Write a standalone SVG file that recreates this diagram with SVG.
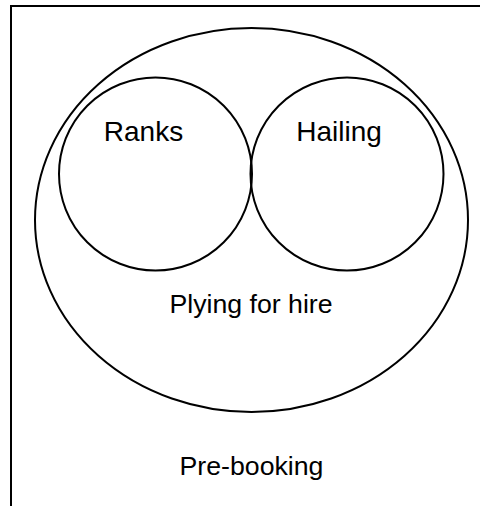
<svg xmlns="http://www.w3.org/2000/svg" width="480" height="506" viewBox="0 0 480 506">
<style>
.s{fill:none;stroke:#000;stroke-width:2}
.t{font-family:"Liberation Sans",Arial,sans-serif;fill:#000;text-anchor:middle}
.big{font-size:28px}
.mid{font-size:26.7px}
</style>
<rect width="480" height="506" fill="#fff"/>
<g id="prebooking">
<path class="s" d="M11,506 V6 H480"/>
<text class="t mid" x="251.5" y="475">Pre-booking</text>
</g>
<g id="plying">
<ellipse class="s" cx="251.5" cy="220" rx="216.5" ry="192"/>
<text class="t mid" x="251" y="313">Plying for hire</text>
</g>
<g id="ranks">
<circle class="s" cx="155.5" cy="174" r="96.5"/>
<text class="t big" x="143.5" y="141">Ranks</text>
</g>
<g id="hailing">
<circle class="s" cx="347" cy="174" r="96.5"/>
<text class="t big" x="339" y="141">Hailing</text>
</g>
<g id="connectors"/>
</svg>
